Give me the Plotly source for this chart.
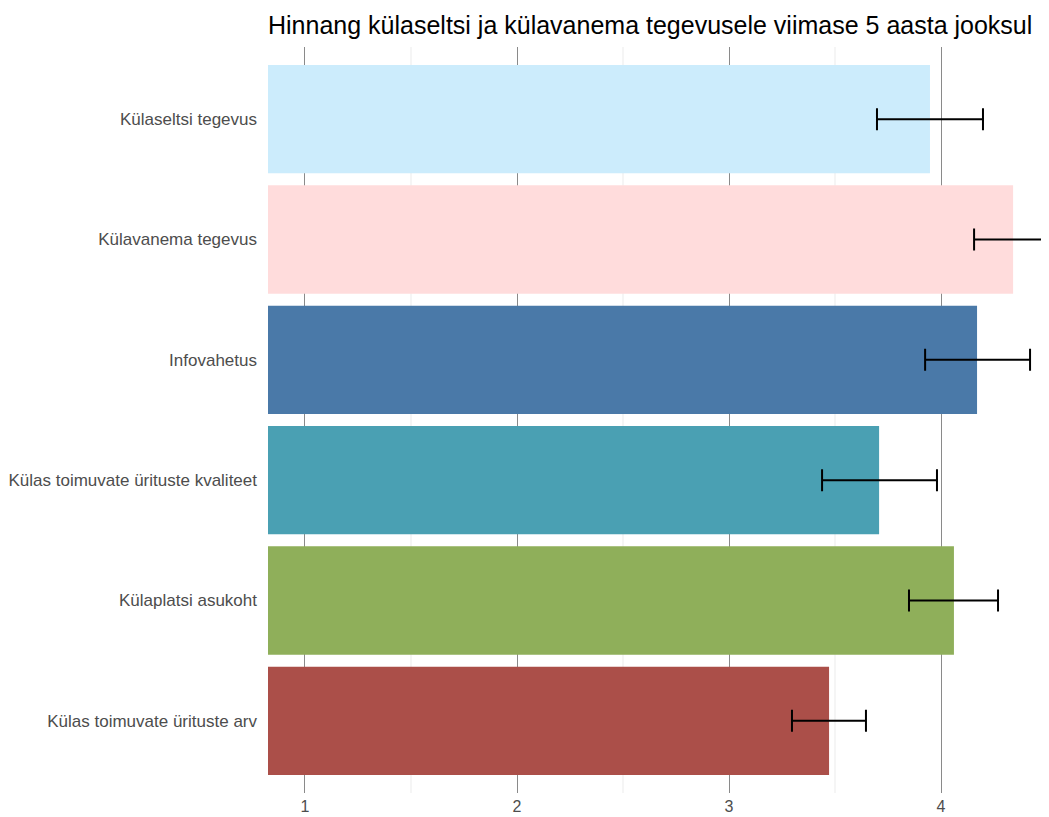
import plotly.graph_objects as go

categories = ["Külaseltsi tegevus", "Külavanema tegevus", "Infovahetus",
              "Külas toimuvate ürituste kvaliteet", "Külaplatsi asukoht",
              "Külas toimuvate ürituste arv"]
means = [3.948, 4.340, 4.170, 3.708, 4.061, 3.472]
lower = [3.698, 4.156, 3.925, 3.439, 3.849, 3.297]
upper = [4.198, 4.524, 4.420, 3.981, 4.269, 3.646]
colors = ["#CCECFC", "#FFDCDC", "#4A79A8", "#4AA0B3", "#8FAF5A", "#AB4F49"]
x_ticks = [1, 2, 3, 4]

err_plus = [u - m for u, m in zip(upper, means)]
err_minus = [m - l for m, l in zip(means, lower)]

W, H = 1041, 809

fig = go.Figure()
fig.add_trace(go.Bar(
    y=categories, x=means, orientation="h",
    marker=dict(color=colors, line=dict(width=0)),
    width=0.9,
    error_x=dict(type="data", array=err_plus, arrayminus=err_minus,
                 color="black", thickness=2, width=11, symmetric=False),
    showlegend=False,
))

minor_vals = [1.5, 2.5, 3.5, 4.5]
for v in minor_vals:
    fig.add_shape(type="line", xref="x", yref="paper", x0=v, x1=v, y0=0, y1=1,
                  line=dict(color="#EBEBEB", width=1), layer="below")

fig.update_layout(
    width=W, height=H,
    margin=dict(l=260, r=0, t=39, b=24),
    paper_bgcolor="white", plot_bgcolor="white",
    font=dict(family="Liberation Sans, Arial, sans-serif"),
    title=dict(text="Hinnang külaseltsi ja külavanema tegevusele viimase 5 aasta jooksul",
               x=260/W, xanchor="left", xref="container",
               y=1 - 17/H, yanchor="middle", yref="container",
               font=dict(size=25, color="black")),
    xaxis=dict(range=[0.8255, 4.5094], tickvals=x_ticks,
               ticktext=[str(t) for t in x_ticks],
               showgrid=True, gridcolor="#8A8A8A", gridwidth=1,
               zeroline=False, showline=False, ticks="", ticklabelstandoff=2,
               tickfont=dict(size=16, color="#4D4D4D")),
    yaxis=dict(type="category", categoryorder="array", categoryarray=categories,
               range=[5.6, -0.6], showgrid=False, zeroline=False, showline=False,
               ticks="", ticklabelstandoff=10,
               tickfont=dict(size=17, color="#4D4D4D")),
    bargap=0.1,
)

fig.write_html("out.html")
